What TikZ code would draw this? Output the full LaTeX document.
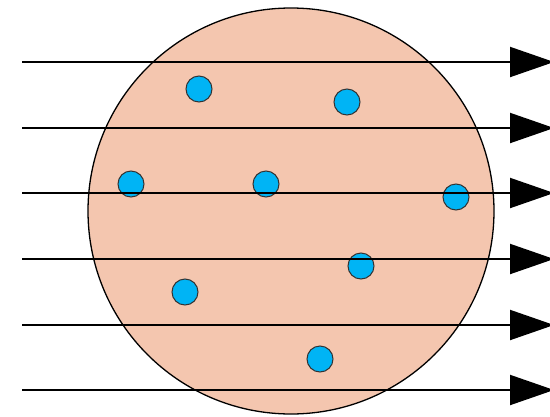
\documentclass[tikz,border=0pt]{standalone}
\usetikzlibrary{arrows.meta}
\definecolor{bodyfill}{HTML}{F4C6AF}
\definecolor{dotfill}{HTML}{00B4F5}
\tikzset{
  body/.style={circle, draw=black, line width=1.3pt, fill=bodyfill, minimum size=406pt, inner sep=0pt},
  particle/.style={circle, draw=black!80, line width=1pt, fill=dotfill, minimum size=26pt, inner sep=0pt},
  ray/.style={line width=2pt, -{Triangle[length=44pt,width=30pt]}}
}
\begin{document}
\begin{tikzpicture}[x=1pt,y=-1pt]
\useasboundingbox (0,0) rectangle (550,416);
\node[body] (B) at (291,211) {};
\node[particle] (p1) at (199,89) {};
\node[particle] (p2) at (347,102) {};
\node[particle] (p3) at (131,184) {};
\node[particle] (p4) at (266,184) {};
\node[particle] (p5) at (456,197) {};
\node[particle] (p6) at (361,266) {};
\node[particle] (p7) at (185,292) {};
\node[particle] (p8) at (320,359) {};
\foreach \i/\y in {1/62,2/128,3/193,4/259,5/325,6/390}{
  \coordinate (s\i) at (22,\y);
  \coordinate (e\i) at (554,\y);
  \draw[ray] (s\i) -- (e\i);
}
\end{tikzpicture}
\end{document}
